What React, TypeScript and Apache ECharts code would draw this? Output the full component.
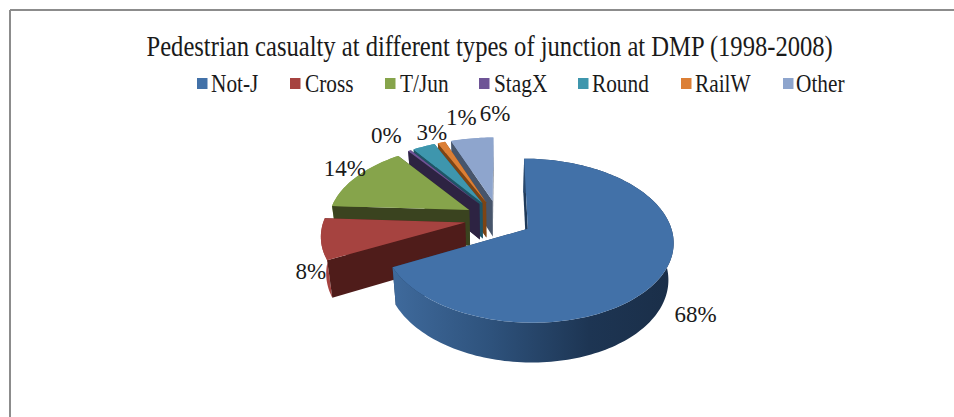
import React, { useEffect, useRef } from "react";
import * as echarts from "echarts";

const titleText = "Pedestrian casualty at different types of junction at DMP (1998-2008)";
const categories = ["Not-J", "Cross", "T/Jun", "StagX", "Round", "RailW", "Other"];
const percentages = [67.6, 8.3, 14, 0.4, 3, 1, 5.7];
const percentLabels = ["68%", "8%", "14%", "0%", "3%", "1%", "6%"];
const topColors = ["#4271a8", "#a64340", "#86a44b", "#6e5496", "#3e96ad", "#dc7f35", "#8ea5cd"];
const sideColors = ["#1f3a5a", "#4f1c1a", "#3a431f", "#2d2342", "#1e5566", "#7d4414", "#47556b"];
const labelNudgeX = [33, -10, -12, -23, 8, 20, 23];
const labelNudgeY = [40, 33, -8, -15, -14, -25, -25];
const legendIconX = [197, 290, 385, 479, 578, 681, 783];
const legendTextX = [211, 305, 400, 494, 592, 695, 796];

// Projection of the tilted pie plane
const cx = 498.5;
const cy = 218.8;
const scaleU = 141;
const scaleV = 77.4;
const persp = 0.143;
const explode = 0.24;
const shrink = 0.97;
const depth = 36;

const project = (u: number, v: number, bottom: boolean): number[] => {
  const f = 1 / (1 - persp * v);
  const q = bottom ? shrink : 1;
  return [cx + scaleU * u * f * q, cy + scaleV * v * f * q + (bottom ? depth * f : 0)];
};

const total = percentages.reduce((a, b) => a + b, 0);

const sliceAngles = (i: number) => {
  const before = percentages.slice(0, i).reduce((a, b) => a + b, 0);
  return [(before / total) * Math.PI * 2, ((before + percentages[i]) / total) * Math.PI * 2];
};

const renderSlice = (i: number) => () => {
  const [a0, a1] = sliceAngles(i);
  const mid = (a0 + a1) / 2;
  const ox = Math.sin(mid) * explode;
  const oy = -Math.cos(mid) * explode;
  const steps = Math.max(2, Math.ceil(((a1 - a0) * 180) / Math.PI / 1.5));
  const rimTop: number[][] = [];
  const rimBottom: number[][] = [];
  for (let s = 0; s <= steps; s++) {
    const a = a0 + ((a1 - a0) * s) / steps;
    const u = ox + Math.sin(a);
    const v = oy - Math.cos(a);
    rimTop.push(project(u, v, false));
    rimBottom.push(project(u, v, true));
  }
  const apexTop = project(ox, oy, false);
  const apexBottom = project(ox, oy, true);
  const side = { fill: sideColors[i] };
  const arcFill =
    i === 0
      ? new echarts.graphic.LinearGradient(0, 0, 1, 0, [
          { offset: 0, color: "#3f6a9c" },
          { offset: 0.35, color: "#2e527c" },
          { offset: 0.7, color: "#1d3553" },
          { offset: 1, color: "#1a2e48" },
        ])
      : topColors[i];
  const midU = ox + Math.sin(mid);
  const midV = oy - Math.cos(mid);
  const anchor = project(midU, midV, false);
  const startWall = {
    type: "polygon",
    shape: { points: [apexTop, rimTop[0], rimBottom[0], apexBottom] },
    style: side,
  };
  const endWall = {
    type: "polygon",
    shape: { points: [apexTop, rimTop[steps], rimBottom[steps], apexBottom] },
    style: side,
  };
  const startFaces = Math.sin(a0) < -1e-6;
  const endFaces = Math.sin(a1) > 1e-6;
  const arcWall = {
    type: "polygon",
    shape: { points: [...rimTop, ...rimBottom.slice().reverse()] },
    style: { fill: arcFill },
  };
  const backWalls = [startFaces ? null : startWall, endFaces ? null : endWall].filter(Boolean);
  const frontWalls = [startFaces ? startWall : null, endFaces ? endWall : null].filter(Boolean);
  return {
    type: "group",
    children: [
      ...backWalls,
      arcWall,
      ...frontWalls,
      {
        type: "polygon",
        shape: { points: [apexTop, ...rimTop] },
        style: { fill: topColors[i] },
      },
      {
        type: "text",
        style: {
          text: percentLabels[i],
          x: anchor[0] + labelNudgeX[i],
          y: anchor[1] + labelNudgeY[i],
          fill: "#1a1a1a",
          font: '23px "Liberation Serif"',
          align: "center",
          verticalAlign: "middle",
        },
      },
    ],
  };
};

const drawOrder = [6, 5, 4, 3, 2, 1, 0];

const condensedText = (text: string, x: number, y: number, size: number, sx: number) => ({
  type: "text",
  x,
  y,
  scaleX: sx,
  style: {
    text,
    x: 0,
    y: 0,
    fill: "#1a1a1a",
    font: `${size}px "Liberation Serif"`,
    align: "left",
    verticalAlign: "middle",
  },
});

export default function App() {
  const ref = useRef<HTMLDivElement>(null);
  useEffect(() => {
    document.body.style.margin = "0";
    const chart = echarts.init(ref.current!, null, { renderer: "svg" });
    chart.setOption({
      animation: false,
      backgroundColor: "#ffffff",
      graphic: [
        { type: "line", shape: { x1: 10, y1: 10, x2: 954, y2: 10 }, style: { stroke: "#8c8c8c", lineWidth: 2 } },
        { type: "line", shape: { x1: 10, y1: 10, x2: 10, y2: 417 }, style: { stroke: "#8c8c8c", lineWidth: 2 } },
        condensedText(titleText, 146.5, 46.5, 30, 0.82),
        ...categories.flatMap((name, i) => [
          {
            type: "rect",
            shape: { x: legendIconX[i], y: 78, width: 10.5, height: 11 },
            style: { fill: topColors[i] },
          },
          condensedText(name, legendTextX[i], 83.5, 26, 0.82),
        ]),
      ],
      series: drawOrder.map((i) => ({
        type: "custom",
        name: categories[i],
        coordinateSystem: "none",
        itemStyle: { color: topColors[i] },
        data: [[percentages[i]]],
        renderItem: renderSlice(i),
      })),
    });
    return () => chart.dispose();
  }, []);
  return <div ref={ref} style={{ position: "absolute", left: 0, top: 0, width: 954, height: 417 }} />;
}
